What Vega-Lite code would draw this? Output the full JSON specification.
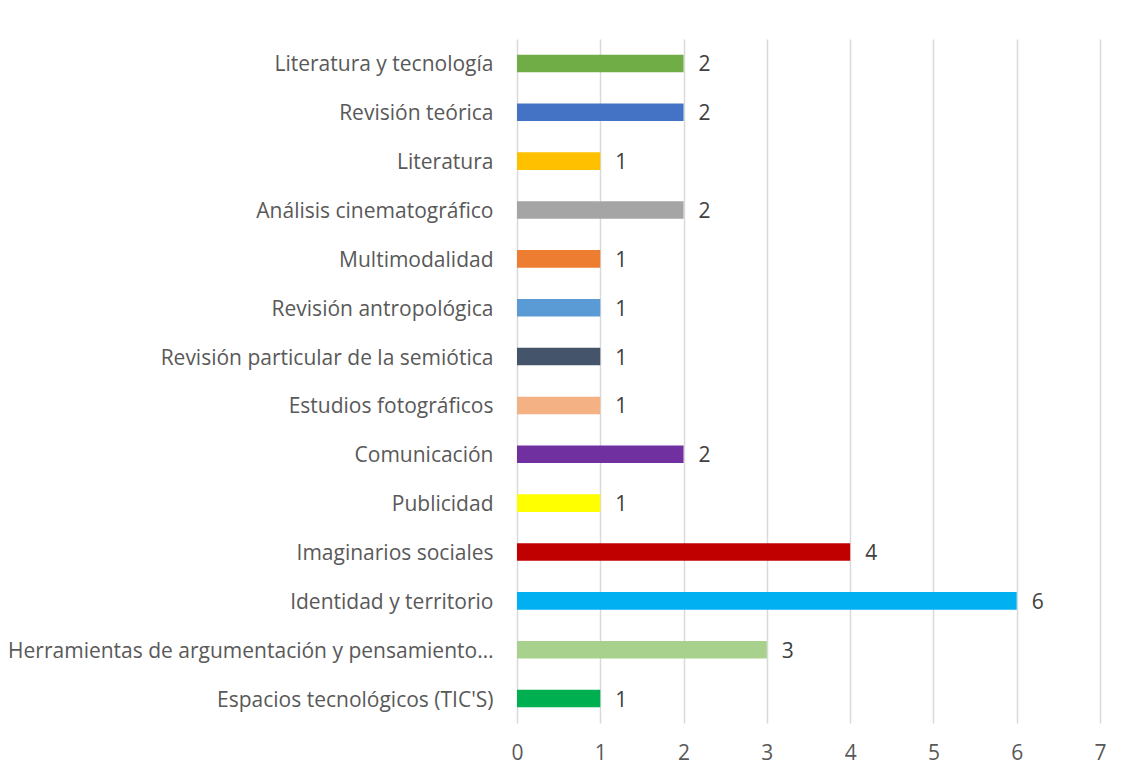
{
  "$schema": "https://vega.github.io/schema/vega-lite/v6.json",
  "width": 583,
  "height": 684,
  "autosize": {"type": "none"},
  "padding": {"left": 517, "top": 39, "right": 25, "bottom": 58},
  "background": "white",
  "config": {"view": {"stroke": null}, "font": "Open Sans"},
  "data": {
    "values": [
      {"category": "Literatura y tecnología", "value": 2},
      {"category": "Revisión teórica", "value": 2},
      {"category": "Literatura", "value": 1},
      {"category": "Análisis cinematográfico", "value": 2},
      {"category": "Multimodalidad", "value": 1},
      {"category": "Revisión antropológica", "value": 1},
      {"category": "Revisión particular de la semiótica", "value": 1},
      {"category": "Estudios fotográficos", "value": 1},
      {"category": "Comunicación", "value": 2},
      {"category": "Publicidad", "value": 1},
      {"category": "Imaginarios sociales", "value": 4},
      {"category": "Identidad y territorio", "value": 6},
      {"category": "Herramientas de argumentación y pensamiento…", "value": 3},
      {"category": "Espacios tecnológicos (TIC'S)", "value": 1}
    ]
  },
  "encoding": {
    "y": {
      "field": "category",
      "type": "nominal",
      "sort": null,
      "scale": {"paddingInner": 0.64, "paddingOuter": 0.32},
      "axis": {
        "title": null,
        "domain": false,
        "ticks": false,
        "grid": false,
        "labelPadding": 24,
        "labelOffset": 2,
        "labelFontSize": 21,
        "labelColor": "#595959",
        "labelLimit": 0
      }
    },
    "x": {
      "field": "value",
      "type": "quantitative",
      "scale": {"domain": [0, 7], "nice": false},
      "axis": {
        "title": null,
        "values": [0, 1, 2, 3, 4, 5, 6, 7],
        "domain": false,
        "ticks": false,
        "grid": true,
        "gridColor": "#d9d9d9",
        "gridWidth": 1.5,
        "labelPadding": 19,
        "labelFontSize": 21,
        "labelColor": "#595959",
        "labelFlush": false
      }
    }
  },
  "layer": [
    {
      "mark": {"type": "bar"},
      "encoding": {
        "color": {
          "field": "category",
          "type": "nominal",
          "legend": null,
          "scale": {
            "domain": ["Literatura y tecnología", "Revisión teórica", "Literatura", "Análisis cinematográfico", "Multimodalidad", "Revisión antropológica", "Revisión particular de la semiótica", "Estudios fotográficos", "Comunicación", "Publicidad", "Imaginarios sociales", "Identidad y territorio", "Herramientas de argumentación y pensamiento…", "Espacios tecnológicos (TIC'S)"],
            "range": ["#70AD47", "#4472C4", "#FFC000", "#A5A5A5", "#ED7D31", "#5B9BD5", "#44546A", "#F4B183", "#7030A0", "#FFFF00", "#C00000", "#00B0F0", "#A9D18E", "#00B050"]
          }
        }
      }
    },
    {
      "mark": {"type": "text", "align": "left", "baseline": "middle", "dx": 15, "dy": 2, "fontSize": 21, "color": "#404040"},
      "encoding": {"text": {"field": "value", "type": "quantitative"}}
    }
  ]
}
